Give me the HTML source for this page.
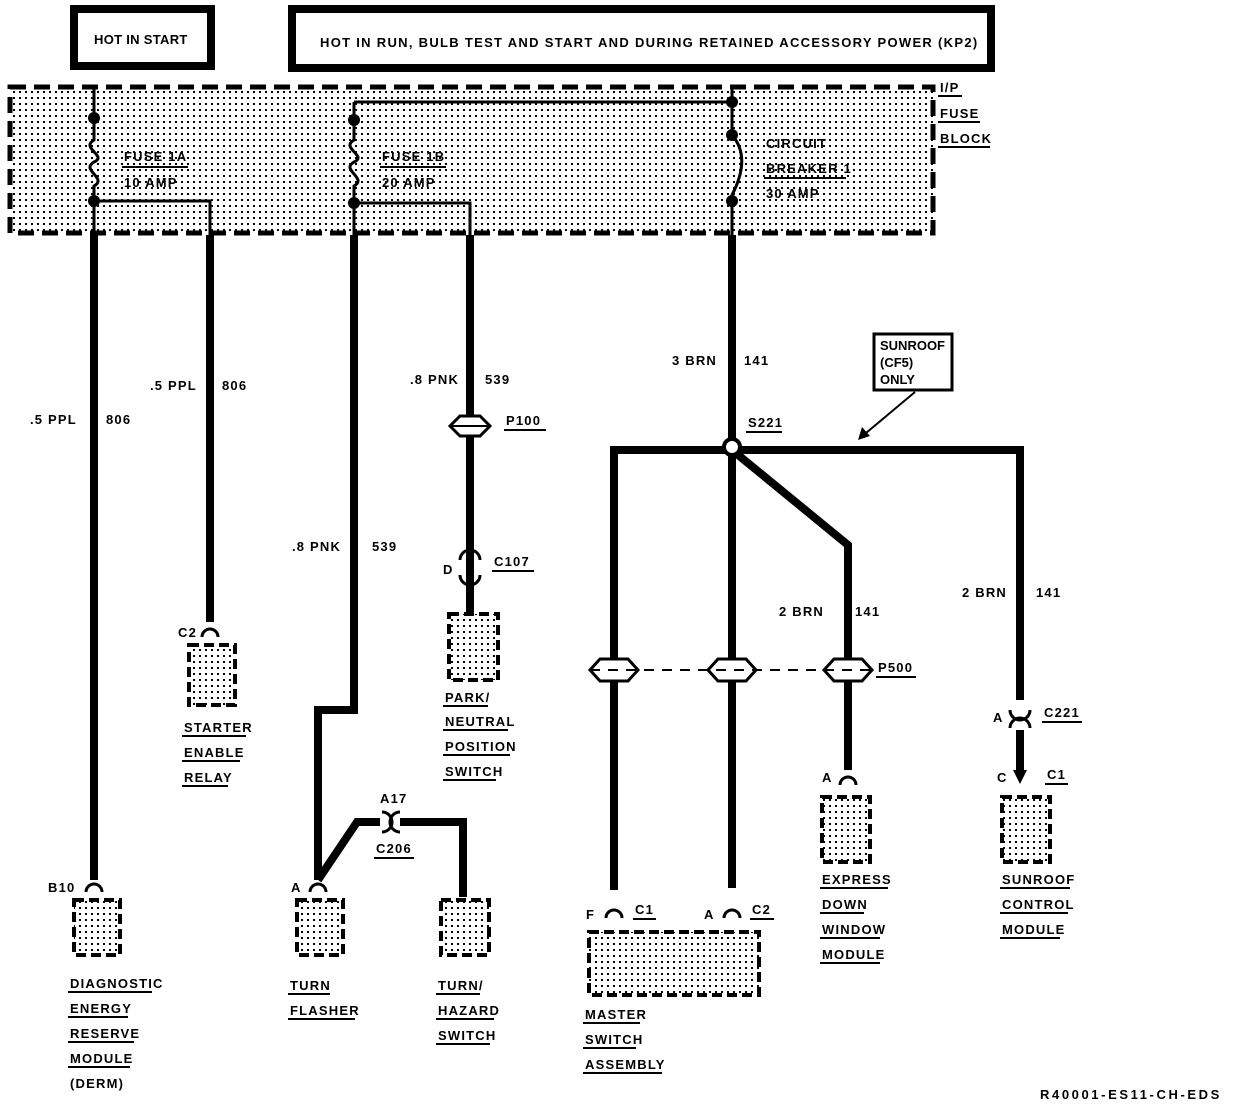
<!DOCTYPE html>
<html><head><style>
html,body{margin:0;padding:0;background:#fff}
svg{display:block}
text{font-family:"Liberation Sans",sans-serif;font-weight:bold;font-size:13px;fill:#000;letter-spacing:1.2px}
</style></head><body>
<svg width="1248" height="1108" viewBox="0 0 1248 1108" xmlns="http://www.w3.org/2000/svg">
<defs>
<pattern id="dots" width="6" height="6" patternUnits="userSpaceOnUse"><rect x="1" y="1" width="2" height="2" fill="#000"/></pattern>
</defs>
<!-- top boxes -->
<rect x="74" y="9" width="137" height="57" fill="#fff" stroke="#000" stroke-width="8"/>
<text x="94" y="44" style="letter-spacing:0.3px">HOT IN START</text>
<rect x="292" y="9" width="699" height="59" fill="#fff" stroke="#000" stroke-width="8"/>
<text x="320" y="47" style="letter-spacing:1.3px">HOT IN RUN, BULB TEST AND START AND DURING RETAINED ACCESSORY POWER (KP2)</text>

<!-- fuse block -->
<rect x="10" y="87" width="923" height="146" fill="url(#dots)" stroke="#000" stroke-width="5" stroke-dasharray="16,8"/>
<text x="940" y="92">I/P</text><text x="940" y="118">FUSE</text><text x="940" y="143">BLOCK</text>
<line x1="938" y1="96" x2="962" y2="96" stroke="#000" stroke-width="2"/>
<line x1="938" y1="122" x2="980" y2="122" stroke="#000" stroke-width="2"/>
<line x1="938" y1="147" x2="990" y2="147" stroke="#000" stroke-width="2"/>

<g fill="none" stroke="#000" stroke-width="3">
<path d="M94 88 V140 C80 148,108 156,94 162 C80 170,108 178,94 186 V235"/>
<path d="M94 201 H210 V235"/>
<path d="M354 102 H732 V102"/>
<path d="M354 102 V140 C340 148,368 156,354 162 C340 170,368 178,354 186 V235"/>
<path d="M354 203 H470 V235"/>
<path d="M732 88 V135 C745 150,745 170,732 195 V235"/>
</g>
<g fill="#000">
<circle cx="94" cy="118" r="6"/><circle cx="94" cy="201" r="6"/>
<circle cx="354" cy="120" r="6"/><circle cx="354" cy="203" r="6"/>
<circle cx="732" cy="102" r="6"/><circle cx="732" cy="135" r="6"/><circle cx="732" cy="201" r="6"/>
</g>
<g>
<text x="124" y="161">FUSE 1A</text><line x1="122" y1="167" x2="188" y2="167" stroke="#000" stroke-width="2"/>
<text x="124" y="187">10 AMP</text>
<text x="382" y="161">FUSE 1B</text><line x1="380" y1="167" x2="446" y2="167" stroke="#000" stroke-width="2"/>
<text x="382" y="187">20 AMP</text>
<text x="766" y="148">CIRCUIT</text>
<text x="766" y="173">BREAKER 1</text><line x1="764" y1="178" x2="846" y2="178" stroke="#000" stroke-width="2"/>
<text x="766" y="198">30 AMP</text>
</g>

<g fill="none" stroke="#000" stroke-width="8" stroke-linejoin="miter">
<path d="M94 235 V880"/>
<path d="M210 235 V622"/>
<path d="M354 235 V710 H318 V880"/>
<path d="M318 880 L357 822 H380"/>
<path d="M400 822 H463 V897"/>
<path d="M470 235 V612"/>
<path d="M732 235 V888"/>
<path d="M614 890 V450 H1020 V700"/>
<path d="M1020 730 V770"/>
<path d="M732 450 L848 545 V770"/>
</g>
<circle cx="732" cy="447" r="8" fill="#fff" stroke="#000" stroke-width="4"/>
<text x="748" y="427">S221</text><line x1="746" y1="432" x2="782" y2="432" stroke="#000" stroke-width="2"/>

<text x="30" y="424">.5 PPL</text><text x="106" y="424">806</text>
<text x="150" y="390">.5 PPL</text><text x="222" y="390">806</text>
<text x="410" y="384">.8 PNK</text><text x="485" y="384">539</text>
<text x="292" y="551">.8 PNK</text><text x="372" y="551">539</text>
<text x="672" y="365">3 BRN</text><text x="744" y="365">141</text>
<text x="779" y="616">2 BRN</text><text x="855" y="616">141</text>
<text x="962" y="597">2 BRN</text><text x="1036" y="597">141</text>

<g fill="#fff" stroke="#000" stroke-width="3">
<path d="M450 426 L460 416 H480 L490 426 L480 436 H460 Z"/>
<path d="M590 670 L600 659 H628 L638 670 L628 681 H600 Z"/>
<path d="M708 670 L718 659 H746 L756 670 L746 681 H718 Z"/>
<path d="M824 670 L834 659 H862 L872 670 L862 681 H834 Z"/>
</g>
<g stroke="#000" stroke-width="2">
<line x1="450" y1="426" x2="490" y2="426"/>
<line x1="590" y1="670" x2="872" y2="670" stroke-dasharray="10,8"/>
</g>
<text x="506" y="425">P100</text><line x1="504" y1="430" x2="546" y2="430" stroke="#000" stroke-width="2"/>
<text x="878" y="672">P500</text><line x1="876" y1="677" x2="916" y2="677" stroke="#000" stroke-width="2"/>

<g fill="none" stroke="#000" stroke-width="3">
<path d="M86 892 A8 8 0 0 1 102 892"/>
<path d="M202 637 A8 8 0 0 1 218 637"/>
<path d="M310 892 A8 8 0 0 1 326 892"/>
<path d="M840 785 A8 8 0 0 1 856 785"/>
<path d="M606 918 A8 8 0 0 1 622 918"/>
<path d="M724 918 A8 8 0 0 1 740 918"/>
<path d="M382 812 A10 10 0 0 1 382 832"/>
<path d="M400 812 A10 10 0 0 0 400 832"/>
<path d="M460 560 A10 10 0 0 1 480 560"/>
<path d="M460 575 A10 10 0 0 0 480 575"/>
<path d="M1010 710 A10 10 0 0 0 1030 710"/>
<path d="M1010 728 A10 10 0 0 1 1030 728"/>
</g>
<path d="M470 575 V612" stroke="#000" stroke-width="8"/>
<path d="M470 540 V560" stroke="#000" stroke-width="8"/>
<path d="M1013 770 H1027 L1020 784 Z" fill="#000"/>

<text x="48" y="892">B10</text>
<text x="178" y="637">C2</text>
<text x="291" y="892">A</text>
<text x="380" y="803">A17</text>
<text x="376" y="853">C206</text><line x1="374" y1="858" x2="414" y2="858" stroke="#000" stroke-width="2"/>
<text x="443" y="574">D</text>
<text x="494" y="566">C107</text><line x1="492" y1="571" x2="534" y2="571" stroke="#000" stroke-width="2"/>
<text x="822" y="782">A</text>
<text x="993" y="722">A</text>
<text x="1044" y="717">C221</text><line x1="1042" y1="722" x2="1082" y2="722" stroke="#000" stroke-width="2"/>
<text x="997" y="782">C</text>
<text x="1047" y="779">C1</text><line x1="1045" y1="784" x2="1068" y2="784" stroke="#000" stroke-width="2"/>
<text x="586" y="919">F</text>
<text x="635" y="914">C1</text><line x1="633" y1="919" x2="656" y2="919" stroke="#000" stroke-width="2"/>
<text x="704" y="919">A</text>
<text x="752" y="914">C2</text><line x1="750" y1="919" x2="774" y2="919" stroke="#000" stroke-width="2"/>

<g fill="url(#dots)" stroke="#000" stroke-width="4" stroke-dasharray="10,5">
<rect x="74" y="900" width="46" height="55"/>
<rect x="189" y="645" width="46" height="60"/>
<rect x="297" y="900" width="46" height="55"/>
<rect x="441" y="900" width="48" height="55"/>
<rect x="449" y="614" width="49" height="66"/>
<rect x="822" y="797" width="48" height="65"/>
<rect x="1002" y="797" width="48" height="65"/>
<rect x="589" y="932" width="170" height="63"/>
</g>

<g>
<text x="70" y="988">DIAGNOSTIC</text><text x="70" y="1013">ENERGY</text><text x="70" y="1038">RESERVE</text><text x="70" y="1063">MODULE</text><text x="70" y="1088">(DERM)</text>
<text x="184" y="732">STARTER</text><text x="184" y="757">ENABLE</text><text x="184" y="782">RELAY</text>
<text x="290" y="990">TURN</text><text x="290" y="1015">FLASHER</text>
<text x="438" y="990">TURN/</text><text x="438" y="1015">HAZARD</text><text x="438" y="1040">SWITCH</text>
<text x="445" y="702">PARK/</text><text x="445" y="726">NEUTRAL</text><text x="445" y="751">POSITION</text><text x="445" y="776">SWITCH</text>
<text x="822" y="884">EXPRESS</text><text x="822" y="909">DOWN</text><text x="822" y="934">WINDOW</text><text x="822" y="959">MODULE</text>
<text x="1002" y="884">SUNROOF</text><text x="1002" y="909">CONTROL</text><text x="1002" y="934">MODULE</text>
<text x="585" y="1019">MASTER</text><text x="585" y="1044">SWITCH</text><text x="585" y="1069">ASSEMBLY</text>
</g>
<g stroke="#000" stroke-width="2">
<line x1="68" y1="992" x2="152" y2="992"/><line x1="68" y1="1017" x2="128" y2="1017"/><line x1="68" y1="1042" x2="134" y2="1042"/><line x1="68" y1="1067" x2="130" y2="1067"/>
<line x1="182" y1="736" x2="246" y2="736"/><line x1="182" y1="761" x2="240" y2="761"/><line x1="182" y1="786" x2="228" y2="786"/>
<line x1="288" y1="994" x2="330" y2="994"/><line x1="288" y1="1019" x2="355" y2="1019"/>
<line x1="436" y1="994" x2="480" y2="994"/><line x1="436" y1="1019" x2="494" y2="1019"/><line x1="436" y1="1044" x2="490" y2="1044"/>
<line x1="443" y1="706" x2="488" y2="706"/><line x1="443" y1="730" x2="508" y2="730"/><line x1="443" y1="755" x2="510" y2="755"/><line x1="443" y1="780" x2="496" y2="780"/>
<line x1="820" y1="888" x2="888" y2="888"/><line x1="820" y1="913" x2="864" y2="913"/><line x1="820" y1="938" x2="880" y2="938"/><line x1="820" y1="963" x2="880" y2="963"/>
<line x1="1000" y1="888" x2="1070" y2="888"/><line x1="1000" y1="913" x2="1068" y2="913"/><line x1="1000" y1="938" x2="1060" y2="938"/>
<line x1="583" y1="1023" x2="640" y2="1023"/><line x1="583" y1="1048" x2="636" y2="1048"/><line x1="583" y1="1073" x2="662" y2="1073"/>
</g>

<rect x="874" y="334" width="78" height="56" fill="#fff" stroke="#000" stroke-width="3"/>
<text x="880" y="350" style="letter-spacing:0">SUNROOF</text><text x="880" y="367" style="letter-spacing:0">(CF5)</text><text x="880" y="384" style="letter-spacing:0">ONLY</text>
<line x1="915" y1="392" x2="866" y2="433" stroke="#000" stroke-width="2"/>
<path d="M858 440 L862 427 L870 436 Z" fill="#000"/>

<text x="1040" y="1099" style="letter-spacing:2.6px">R40001-ES11-CH-EDS</text>
</svg>
</body></html>
